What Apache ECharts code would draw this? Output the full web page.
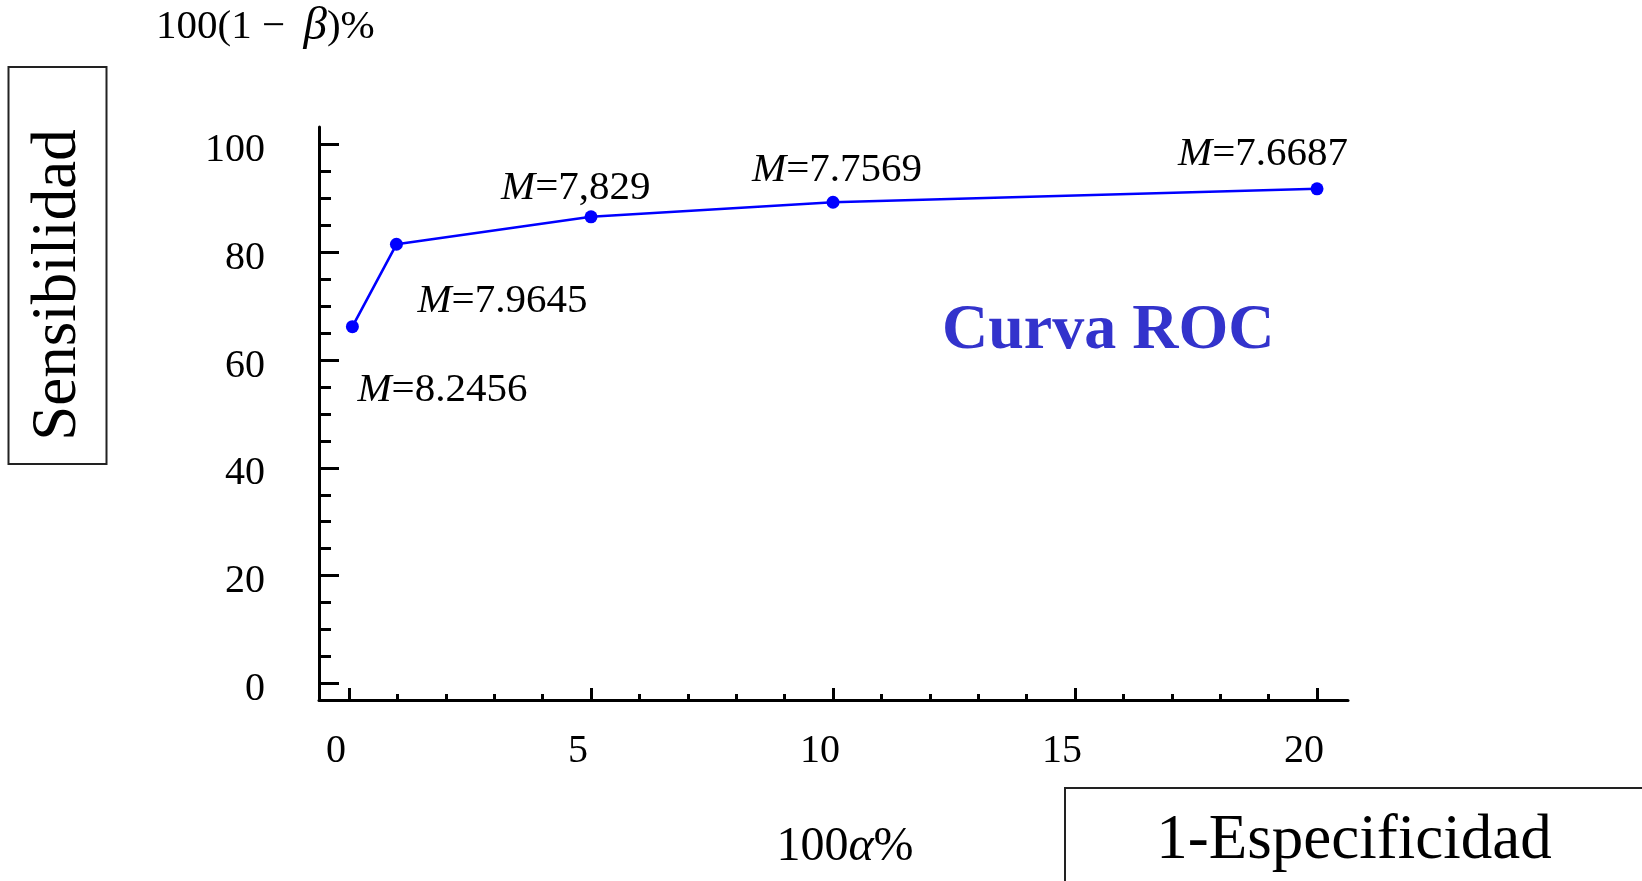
<!DOCTYPE html>
<html>
<head>
<meta charset="utf-8">
<script src="https://cdn.jsdelivr.net/npm/echarts@6/dist/echarts.min.js"></script>
<style>
html,body{margin:0;padding:0;background:#fff;}
#chart{width:1642px;height:881px;}
</style>
</head>
<body>
<div id="chart"></div>
<script>
// Data (1-Especificidad %, Sensibilidad %)
const alphaPct = [0.07, 0.98, 5, 10, 20];
const sensPct = [66.2, 81.5, 86.6, 89.3, 91.8];
const thresholds = ['8.2456', '7.9645', '7,829', '7.7569', '7.6687'];
const xMajorTicks = [0, 5, 10, 15, 20];
const xMinorTicks = [1, 2, 3, 4, 6, 7, 8, 9, 11, 12, 13, 14, 16, 17, 18, 19];
const yMajorTicks = [0, 20, 40, 60, 80, 100];
const yMinorTicks = [5, 10, 15, 25, 30, 35, 45, 50, 55, 65, 70, 75, 85, 90, 95];

// label placement (pixels relative to point: left edge dx, middle dy)
const labelOffsets = [[5, 64], [21, 57], [-90, -29], [-81, -32], [-139, -35]];

const SERIF = '"Liberation Serif","DejaVu Serif",serif';
const chart = echarts.init(document.getElementById('chart'));

const data = alphaPct.map((x, i) => ({
  value: [x, sensPct[i]],
  label: { offset: labelOffsets[i] }
}));

const option = {
  animation: false,
  backgroundColor: '#ffffff',
  grid: { left: 319, right: 294, top: 127, bottom: 181, containLabel: false },
  xAxis: [{
    type: 'value', min: -0.62, max: 20.64,
    axisLine: { show: true, onZero: false, lineStyle: { color: '#000', width: 3 } },
    axisTick: { show: true, inside: true, length: 12, customValues: xMajorTicks, lineStyle: { color: '#000', width: 3 } },
    axisLabel: { show: true, customValues: xMajorTicks, margin: 31, color: '#000', fontFamily: SERIF, fontSize: 40, lineHeight: 40, padding: [0, 26, 0, 0] },
    splitLine: { show: false }
  }, {
    type: 'value', min: -0.62, max: 20.64, position: 'bottom',
    axisLine: { show: false, onZero: false },
    axisTick: { show: true, inside: true, length: 6, customValues: xMinorTicks, lineStyle: { color: '#000', width: 3 } },
    axisLabel: { show: false },
    splitLine: { show: false }
  }],
  yAxis: [{
    type: 'value', min: -3.1, max: 103.27,
    axisLine: { show: true, onZero: false, lineStyle: { color: '#000', width: 3 } },
    axisTick: { show: true, inside: true, length: 20, customValues: yMajorTicks, lineStyle: { color: '#000', width: 3 } },
    axisLabel: { show: true, customValues: yMajorTicks, margin: 54, color: '#000', fontFamily: SERIF, fontSize: 40, lineHeight: 12, verticalAlign: 'top' },
    splitLine: { show: false }
  }, {
    type: 'value', min: -3.1, max: 103.27, position: 'left',
    axisLine: { show: false, onZero: false },
    axisTick: { show: true, inside: true, length: 12, customValues: yMinorTicks, lineStyle: { color: '#000', width: 3 } },
    axisLabel: { show: false },
    splitLine: { show: false }
  }],
  series: [{
    type: 'line',
    xAxisIndex: 0, yAxisIndex: 0,
    data: data,
    symbol: 'circle', symbolSize: 13,
    itemStyle: { color: '#0000ff' },
    lineStyle: { color: '#0000ff', width: 2.6 },
    label: {
      show: true, position: 'inside', align: 'left', verticalAlign: 'middle',
      formatter: (p) => '{m|M}=' + thresholds[p.dataIndex],
      color: '#000', fontFamily: SERIF, fontSize: 41,
      rich: { m: { fontStyle: 'italic', fontFamily: SERIF, fontSize: 41, color: '#000' } }
    }
  }],
  graphic: [
    { type: 'text', x: 156, y: 27,
      style: { text: '100(1 − \u2009{i|β})%', fill: '#000', font: '41px ' + SERIF, align: 'left', verticalAlign: 'middle',
        rich: { i: { fontStyle: 'italic', fontFamily: SERIF, fontSize: 47 } } } },
    { type: 'rect', shape: { x: 8.5, y: 67, width: 98, height: 397 },
      style: { fill: 'none', stroke: '#222', lineWidth: 2 } },
    { type: 'text', x: 58, y: 285, rotation: Math.PI / 2,
      style: { text: 'Sensibilidad', fill: '#000', font: '63px ' + SERIF, align: 'center', verticalAlign: 'middle' } },
    { type: 'rect', shape: { x: 1065, y: 788, width: 600, height: 120 },
      style: { fill: 'none', stroke: '#222', lineWidth: 2 } },
    { type: 'text', x: 1354, y: 841,
      style: { text: '1-Especificidad', fill: '#000', font: '63px ' + SERIF, align: 'center', verticalAlign: 'middle' } },
    { type: 'text', x: 845, y: 847,
      style: { text: '100{i|α}%', fill: '#000', font: '48px ' + SERIF, align: 'center', verticalAlign: 'middle',
        rich: { i: { fontStyle: 'italic', fontFamily: SERIF, fontSize: 48 } } } },
    { type: 'text', x: 942, y: 331,
      style: { text: 'Curva ROC', fill: '#3333cc', font: 'bold 64px ' + SERIF, align: 'left', verticalAlign: 'middle' } }
  ]
};
chart.setOption(option);
</script>
</body>
</html>
